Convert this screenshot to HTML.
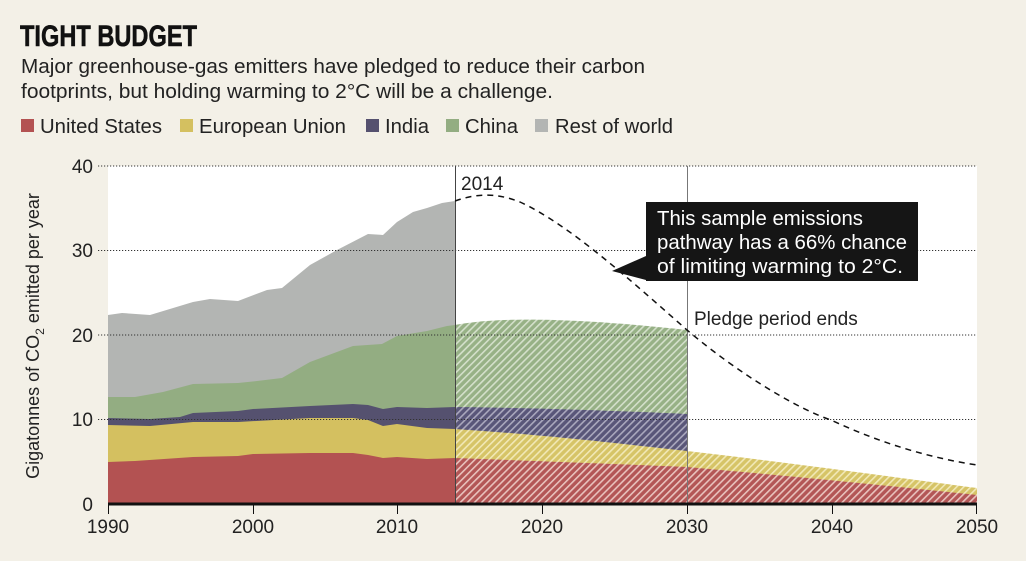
<!DOCTYPE html>
<html><head><meta charset="utf-8"><style>
html,body{margin:0;padding:0;background:#f3f0e7;}
svg{display:block;font-family:"Liberation Sans",sans-serif;}
</style></head><body>
<svg width="1026" height="561" viewBox="0 0 1026 561">
<defs>
<pattern id="hR" patternUnits="userSpaceOnUse" width="5" height="5" patternTransform="rotate(45)"><rect width="5" height="5" fill="#b35656"/><rect width="1.6" height="5" fill="#e8c2bd"/></pattern>
<pattern id="hE" patternUnits="userSpaceOnUse" width="5" height="5" patternTransform="rotate(45)"><rect width="5" height="5" fill="#d6c467"/><rect width="1.6" height="5" fill="#f1e8b6"/></pattern>
<pattern id="hI" patternUnits="userSpaceOnUse" width="5" height="5" patternTransform="rotate(45)"><rect width="5" height="5" fill="#595679"/><rect width="1.6" height="5" fill="#aaa8bd"/></pattern>
<pattern id="hC" patternUnits="userSpaceOnUse" width="5" height="5" patternTransform="rotate(45)"><rect width="5" height="5" fill="#97b186"/><rect width="1.6" height="5" fill="#d4e0cb"/></pattern>
</defs>
<rect width="1026" height="561" fill="#f3f0e7"/>
<text x="20" y="46" font-size="30" font-weight="bold" textLength="177" lengthAdjust="spacingAndGlyphs" fill="#111" stroke="#111" stroke-width="0.6">TIGHT BUDGET</text>
<text x="21" y="73" font-size="20" textLength="624" lengthAdjust="spacingAndGlyphs" fill="#222">Major greenhouse-gas emitters have pledged to reduce their carbon</text>
<text x="21" y="98" font-size="20" textLength="532" lengthAdjust="spacingAndGlyphs" fill="#222">footprints, but holding warming to 2°C will be a challenge.</text>
<g font-size="20" fill="#222">
<rect x="21" y="119" width="13" height="13" fill="#b35252"/><text x="40" y="133" textLength="122" lengthAdjust="spacingAndGlyphs">United States</text>
<rect x="180" y="119" width="13" height="13" fill="#d4c060"/><text x="199" y="133" textLength="147" lengthAdjust="spacingAndGlyphs">European Union</text>
<rect x="366" y="119" width="13" height="13" fill="#55516f"/><text x="385" y="133" textLength="44" lengthAdjust="spacingAndGlyphs">India</text>
<rect x="446" y="119" width="13" height="13" fill="#93ad82"/><text x="465" y="133" textLength="53" lengthAdjust="spacingAndGlyphs">China</text>
<rect x="535" y="119" width="13" height="13" fill="#b3b5b3"/><text x="555" y="133" textLength="118" lengthAdjust="spacingAndGlyphs">Rest of world</text>
</g>
<rect x="108" y="166" width="869" height="338" fill="#fff"/>
<polygon fill="#b3b5b3" points="108,504 108,315 122,313 150,315 193,302 210,299 238,301 267,290 282,288 310,265 337,250 368,234 383,235 397,222 413,212 427,208 442,203 455,201 455,504"/>
<polygon fill="#93ad82" points="108,504 108,397 135,397 163,392 193,384 238,383 257,381 282,378 310,362 353,346 382,344 397,336 427,331 447,326 455,325 455,504"/>
<polygon fill="#55516f" points="108,504 108,418 150,419 180,417 193,413 238,411 253,409 310,406 353,404 368,405 383,409 397,407 427,408 455,407 455,504"/>
<polygon fill="#d4c060" points="108,504 108,425 150,426 193,422 238,422 310,418 353,418 368,420 383,426 397,424 427,428 455,429 455,504"/>
<polygon fill="#b35252" points="108,504 108,462 135,461 193,457 238,456 253,454 310,453 353,453 368,455 383,458 397,457 427,459 455,458 455,504"/>
<path fill="url(#hC)" d="M455,325 C490,318 560,316 687,330 L687,504 L455,504Z"/>
<path fill="url(#hI)" d="M455,407 C540,408 620,411 687,414 L687,504 L455,504Z"/>
<path fill="url(#hE)" d="M455,429 C560,436 640,446 687,451 C800,464 900,478 977,488 L977,504 L455,504Z"/>
<path fill="url(#hR)" d="M455,458 C560,462 640,465 687,467 C800,477 900,487 977,495 L977,504 L455,504Z"/>
<g stroke="#333" stroke-width="1" stroke-dasharray="1.2,1.8">
<line x1="98" y1="166" x2="977" y2="166"/><line x1="98" y1="250.5" x2="977" y2="250.5"/><line x1="98" y1="335" x2="977" y2="335"/><line x1="98" y1="419.5" x2="977" y2="419.5"/>
</g>
<line x1="455.5" y1="166" x2="455.5" y2="504" stroke="#444" stroke-width="1"/>
<line x1="687.5" y1="166" x2="687.5" y2="504" stroke="#777" stroke-width="1"/>
<path d="M455,201 C475,194 495,192 520,202 C570,225 630,280 687,330 C740,375 800,410 831,420 C880,443 930,458 977,465" fill="none" stroke="#111" stroke-width="1.5" stroke-dasharray="6,5"/>
<line x1="108" y1="504" x2="977" y2="504" stroke="#111" stroke-width="3"/>
<g stroke="#111" stroke-width="1"><line x1="108.5" y1="504" x2="108.5" y2="514"/><line x1="253.5" y1="504" x2="253.5" y2="514"/><line x1="397.5" y1="504" x2="397.5" y2="514"/><line x1="542.5" y1="504" x2="542.5" y2="514"/><line x1="687.5" y1="504" x2="687.5" y2="514"/><line x1="832.5" y1="504" x2="832.5" y2="514"/><line x1="976.5" y1="504" x2="976.5" y2="514"/></g>
<g font-size="19" fill="#222" text-anchor="middle">
<text x="108" y="533">1990</text><text x="253" y="533">2000</text><text x="397" y="533">2010</text><text x="542" y="533">2020</text><text x="687" y="533">2030</text><text x="832" y="533">2040</text><text x="977" y="533">2050</text>
</g>
<g font-size="19" fill="#222" text-anchor="end">
<text x="93" y="173">40</text><text x="93" y="257">30</text><text x="93" y="342">20</text><text x="93" y="426">10</text><text x="93" y="511">0</text>
</g>
<text transform="translate(39,336) rotate(-90)" font-size="18" fill="#222" text-anchor="middle">Gigatonnes of CO<tspan font-size="12" dy="5">2</tspan><tspan dy="-5"> emitted per year</tspan></text>
<text x="461" y="190" font-size="19" fill="#222">2014</text>
<text x="694" y="325" font-size="19" fill="#222">Pledge period ends</text>
<polygon points="646,256 646,280 612,271" fill="#151515"/>
<rect x="646" y="202" width="272" height="79" fill="#151515"/>
<g font-size="20" fill="#fff"><text x="657" y="225" textLength="206" lengthAdjust="spacingAndGlyphs">This sample emissions</text><text x="657" y="249" textLength="250" lengthAdjust="spacingAndGlyphs">pathway has a 66% chance</text><text x="657" y="273" textLength="246" lengthAdjust="spacingAndGlyphs">of limiting warming to 2°C.</text></g>
</svg>
</body></html>
